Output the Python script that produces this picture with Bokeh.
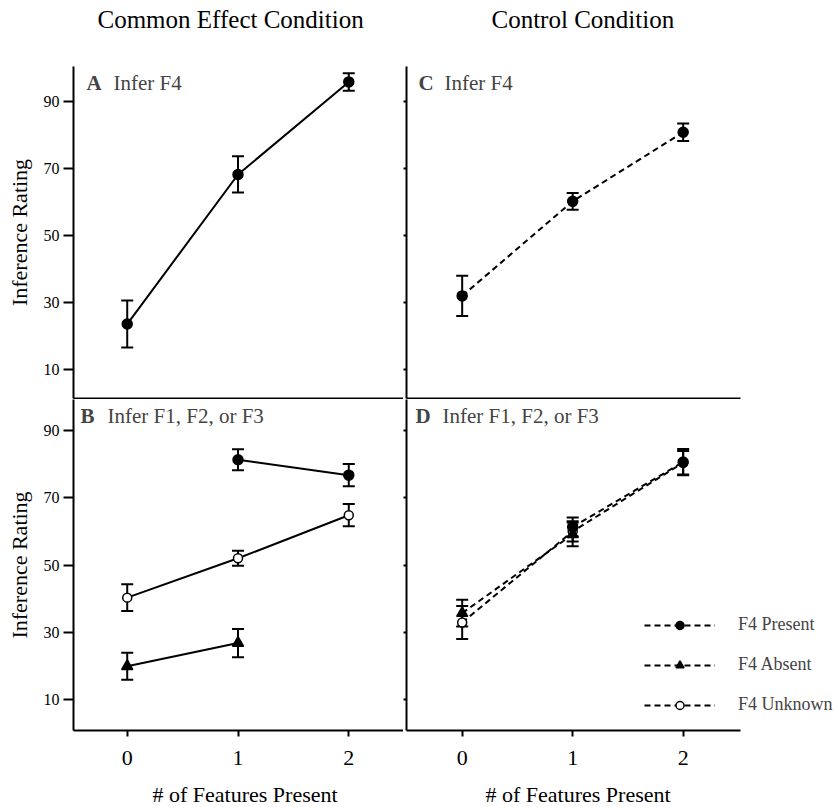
from bokeh.plotting import figure
from bokeh.models import (ColumnDataSource, Whisker, TeeHead, Label, Range1d,
                          FixedTicker, Legend, LegendItem, Title)
from bokeh.layouts import row, column
from bokeh.embed import file_html
from bokeh.resources import INLINE

# ---------------- data ----------------
x_ticks = [0, 1, 2]
y_ticks = [10, 30, 50, 70, 90]

# Panel A: Common effect, infer F4
A_x = [0, 1, 2]
A_mean = [23.5, 68.1, 95.7]
A_err = [7.0, 5.4, 2.6]

# Panel C: Control, infer F4
C_x = [0, 1, 2]
C_mean = [31.9, 60.1, 80.7]
C_err = [6.0, 2.5, 2.6]

# Panel B: Common effect, infer F1/F2/F3
B_present_x = [1, 2]
B_present = [81.3, 76.7]
B_present_err = [3.1, 3.3]
B_absent_x = [0, 1]
B_absent = [19.9, 26.8]
B_absent_err = [4.0, 4.2]
B_unknown_x = [0, 1, 2]
B_unknown = [40.3, 52.0, 64.8]
B_unknown_err = [4.0, 2.2, 3.3]

# Panel D: Control, infer F1/F2/F3
D_present_x = [1, 2]
D_present = [61.3, 80.6]
D_present_err = [2.8, 3.9]
D_absent_x = [0, 1]
D_absent = [35.7, 59.1]
D_absent_err = [4.0, 3.5]
D_unknown_x = [0, 1, 2]
D_unknown = [32.9, 60.0, 80.4]
D_unknown_err = [4.9, 3.0, 3.5]

legend_labels = ["F4 Present", "F4 Absent", "F4 Unknown"]
titles = ["Common Effect Condition", "Control Condition"]
panel_letters = ["A", "B", "C", "D"]
panel_texts = ["Infer F4", "Infer F1, F2, or F3", "Infer F4", "Infer F1, F2, or F3"]
y_title = "Inference Rating"
x_title = "# of Features Present"

FONT = "Liberation Serif"
DASH = "6 4"


def base_fig(width, height, xr, yr, left, right, top, bottom):
    p = figure(width=width, height=height, x_range=Range1d(*xr), y_range=Range1d(*yr),
               output_backend="svg", toolbar_location=None,
               min_border_left=left, min_border_right=right,
               min_border_top=top, min_border_bottom=bottom)
    p.outline_line_color = None
    p.xgrid.visible = False
    p.ygrid.visible = False
    p.background_fill_color = "white"
    p.border_fill_color = "white"
    for ax in p.axis:
        ax.axis_line_width = 2
        ax.axis_line_color = "black"
        ax.major_tick_line_width = 2
        ax.major_tick_line_color = "black"
        ax.minor_tick_line_color = None
        ax.major_label_text_font = FONT
        ax.axis_label_text_font = FONT
        ax.axis_label_text_font_style = "normal"
        ax.major_label_text_color = "black"
        ax.axis_label_text_color = "black"
    return p


def text_strip(width, height, left, top, text, size, offset):
    # figure with no axes whose only content is a title (column header / axis title)
    p = figure(width=width, height=height, output_backend="svg", toolbar_location=None,
               x_axis_location=None, y_axis_location=None,
               min_border_left=left, min_border_right=0,
               min_border_top=top, min_border_bottom=0)
    p.outline_line_color = None
    p.xgrid.visible = False
    p.ygrid.visible = False
    p.title.text = text
    p.title.text_font = FONT
    p.title.text_font_size = size
    p.title.text_font_style = "normal"
    p.title.text_color = "black"
    p.title.align = "left"
    p.title.offset = offset
    p.title.vertical_align = "bottom"
    p.title.standoff = 0
    return p


def y_axis_labeled(p):
    ax = p.yaxis[0]
    ax.ticker = FixedTicker(ticks=y_ticks)
    ax.major_tick_out = 10
    ax.major_tick_in = 0
    ax.major_label_text_font_size = "16px"
    ax.major_label_standoff = 4
    ax.axis_label = y_title
    ax.axis_label_text_font_size = "22px"
    ax.axis_label_standoff = 9


def y_axis_bare(p):
    # only small tick marks, no labels
    ax = p.yaxis[0]
    ax.ticker = FixedTicker(ticks=[], minor_ticks=y_ticks)
    ax.major_tick_out = 0
    ax.major_tick_in = 0
    ax.minor_tick_out = 3
    ax.minor_tick_in = 0
    ax.minor_tick_line_color = "black"
    ax.minor_tick_line_width = 2
    ax.major_label_standoff = 0


def x_axis_bare(p, bounds=None):
    ax = p.xaxis[0]
    ax.ticker = FixedTicker(ticks=[])
    ax.major_tick_out = 0
    ax.major_tick_in = 0
    ax.major_label_standoff = 0
    if bounds is not None:
        ax.bounds = bounds


def x_axis_labeled(p, bounds=None):
    ax = p.xaxis[0]
    ax.ticker = FixedTicker(ticks=x_ticks)
    ax.major_tick_out = 6
    ax.major_tick_in = 0
    ax.major_label_text_font_size = "22px"
    ax.major_label_standoff = 14
    if bounds is not None:
        ax.bounds = bounds


def panel_label(p, letter, text, lx, tx, dy):
    p.add_layout(Label(x=lx, y=dy, x_units="screen", y_units="screen", text=letter,
                       text_font=FONT, text_font_size="21px", text_font_style="bold",
                       text_baseline="alphabetic"))
    p.add_layout(Label(x=tx, y=dy, x_units="screen", y_units="screen", text=text,
                       text_font=FONT, text_font_size="21px",
                       text_baseline="alphabetic"))


def series(p, xs, ys, errs, marker, fill, dash, size):
    src = ColumnDataSource(dict(x=xs, y=ys,
                                upper=[a + b for a, b in zip(ys, errs)],
                                lower=[a - b for a, b in zip(ys, errs)]))
    p.add_layout(Whisker(base="x", upper="upper", lower="lower", source=src,
                         line_width=2, line_color="black",
                         upper_head=TeeHead(size=12, line_width=2, line_color="black"),
                         lower_head=TeeHead(size=12, line_width=2, line_color="black")))
    ln = p.line("x", "y", source=src, line_width=2, line_color="black", line_dash=dash)
    sc = p.scatter("x", "y", source=src, marker=marker, size=size,
                   fill_color=fill, line_color="black", line_width=1.5)
    return ln, sc


XR_L = (-0.485, 2.494)
XR_R = (-0.504, 3.424)
BOUNDS_R = (-0.504, 2.519)
YR_TOP = (1.3, 100.3)
YR_BOT = (0.8, 99.2)

# ---------- column headers ----------
hA = text_strip(403, 40, 73, 32, titles[0], "25px", 24)
hC = text_strip(437, 40, 3, 32, titles[1], "25px", 85)

# ---------- Panel A ----------
pA = base_fig(403, 359, XR_L, YR_TOP, 73, 0, 26, 1)
y_axis_labeled(pA)
x_axis_bare(pA)
series(pA, A_x, A_mean, A_err, "circle", "black", "solid", 10)
panel_label(pA, panel_letters[0], panel_texts[0], 13, 40, 316)

# ---------- Panel C ----------
pC = base_fig(437, 359, XR_R, YR_TOP, 3, 0, 26, 1)
y_axis_bare(pC)
x_axis_bare(pC, BOUNDS_R)
series(pC, C_x, C_mean, C_err, "circle", "black", DASH, 10)
panel_label(pC, panel_letters[2], panel_texts[2], 12, 38, 316)

# ---------- Panel B ----------
pB = base_fig(403, 371, XR_L, YR_BOT, 73, 0, 0, 40)
y_axis_labeled(pB)
x_axis_labeled(pB)
series(pB, B_present_x, B_present, B_present_err, "circle", "black", "solid", 10)
series(pB, B_unknown_x, B_unknown, B_unknown_err, "circle", "white", "solid", 9)
series(pB, B_absent_x, B_absent, B_absent_err, "triangle", "black", "solid", 11)
panel_label(pB, panel_letters[1], panel_texts[1], 7, 34, 315)

# ---------- Panel D ----------
pD = base_fig(437, 371, XR_R, YR_BOT, 3, 0, 0, 40)
y_axis_bare(pD)
x_axis_labeled(pD, BOUNDS_R)
lu, su = series(pD, D_unknown_x, D_unknown, D_unknown_err, "circle", "white", DASH, 9)
la, sa = series(pD, D_absent_x, D_absent, D_absent_err, "triangle", "black", DASH, 11)
lp, sp = series(pD, D_present_x, D_present, D_present_err, "circle", "black", DASH, 10)
panel_label(pD, panel_letters[3], panel_texts[3], 9, 36, 315)

legend = Legend(items=[LegendItem(label=legend_labels[0], renderers=[lp, sp]),
                       LegendItem(label=legend_labels[1], renderers=[la, sa]),
                       LegendItem(label=legend_labels[2], renderers=[lu, su])],
                location=(238, 15), padding=0, margin=0, border_line_color=None,
                background_fill_alpha=0, glyph_width=71, glyph_height=20,
                label_height=20, spacing=19, label_standoff=23,
                label_text_font=FONT, label_text_font_size="18px")
pD.add_layout(legend)

# ---------- x-axis titles ----------
fB = text_strip(403, 37, 73, 36, x_title, "22px", 79)
fD = text_strip(437, 37, 3, 36, x_title, "22px", 79)

layout = column(row(hA, hC), row(pA, pC), row(pB, pD), row(fB, fD))

open("out.html", "w").write(file_html(layout, INLINE))
